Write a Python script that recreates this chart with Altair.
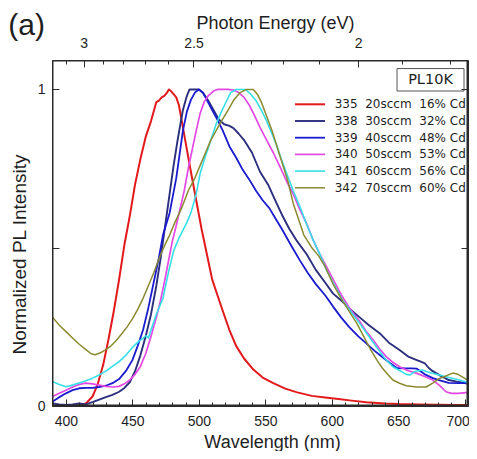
import altair as alt
import pandas as pd

# ---------------- data ----------------
LABELS = [
    "335\u00a0\u00a020sccm\u00a0\u00a016%\u00a0Cd",
    "338\u00a0\u00a030sccm\u00a0\u00a032%\u00a0Cd",
    "339\u00a0\u00a040sccm\u00a0\u00a048%\u00a0Cd",
    "340\u00a0\u00a050sccm\u00a0\u00a053%\u00a0Cd",
    "341\u00a0\u00a060sccm\u00a0\u00a056%\u00a0Cd",
    "342\u00a0\u00a070sccm\u00a0\u00a060%\u00a0Cd",
]
COLORS = ["#e3191c", "#2b2f7e", "#1a1ad0", "#e448e4", "#33e0e6", "#8a8a30"]
WIDTHS = [2.0, 1.5, 2.0, 1.5, 2.5, 1.5]

WL_335 = [390, 395, 400, 405, 410, 415, 420, 424, 428, 432, 436, 440, 444, 448, 452, 456, 460, 464, 466, 468,
          470, 472, 474, 476, 477.5, 479, 481, 483, 485, 488, 491, 494, 498, 502, 506, 510, 514, 518, 523, 528,
          534, 541, 548, 556, 565, 574, 585, 595, 605, 615, 626, 640, 651, 665, 680, 695, 709]
I_335 = [0.0, 0.001, 0.0, 0.002, 0.003, 0.008, 0.03, 0.07, 0.13, 0.21, 0.30, 0.40, 0.51, 0.60, 0.70, 0.78, 0.85,
         0.90, 0.93, 0.96, 0.965, 0.975, 0.98, 0.99, 1.0, 0.995, 0.985, 0.975, 0.95, 0.88, 0.81, 0.74, 0.65, 0.56,
         0.48, 0.40, 0.35, 0.30, 0.24, 0.19, 0.15, 0.115, 0.09, 0.072, 0.055, 0.043, 0.032, 0.027, 0.022, 0.017,
         0.012, 0.008, 0.006, 0.005, 0.004, 0.003, 0.003]

WL_338 = [390, 395, 400, 405, 410, 415, 420, 425, 430, 435, 440, 444, 448, 452, 456, 460, 464, 468, 471, 474,
          478, 481, 484, 488, 491, 493, 500, 503, 507, 511, 515, 519, 523, 526, 530, 534, 540, 546, 552, 558,
          563, 568, 574, 581, 588, 595, 601, 608, 614, 621, 628, 636, 643, 651, 658, 664, 667, 670, 673, 676,
          682, 688, 694, 701, 709]
I_338 = [0.008, 0.005, 0.003, 0.005, 0.008, 0.005, 0.012, 0.02, 0.028, 0.035, 0.045, 0.057, 0.075, 0.11, 0.16,
         0.22, 0.29, 0.38, 0.46, 0.55, 0.67, 0.76, 0.84, 0.935, 0.98, 1.0, 1.0, 0.99, 0.965, 0.935, 0.905, 0.89,
         0.885, 0.878, 0.86, 0.84, 0.80, 0.74, 0.70, 0.645, 0.60, 0.56, 0.52, 0.48, 0.43, 0.39, 0.355, 0.33,
         0.305, 0.28, 0.255, 0.23, 0.20, 0.177, 0.155, 0.145, 0.14, 0.135, 0.12, 0.11, 0.095, 0.082, 0.077,
         0.072, 0.066]

WL_339 = [390, 395, 400, 405, 410, 415, 420, 425, 430, 435, 440, 445, 450, 454, 458, 462, 466, 470, 473, 478,
          483, 486, 488, 491, 494, 497, 500, 503, 506, 510, 514, 518, 523, 528, 533, 538, 543, 548, 553, 558,
          563, 569, 576, 582, 588, 595, 601, 607, 613, 620, 626, 632, 638, 644, 649, 655, 660, 664, 670, 676,
          682, 688, 695, 701, 709]
I_339 = [0.014, 0.028, 0.04, 0.05, 0.056, 0.057, 0.057, 0.06, 0.064, 0.072, 0.085, 0.11, 0.145, 0.19, 0.24,
         0.31, 0.39, 0.47, 0.54, 0.61, 0.72, 0.81, 0.87, 0.93, 0.967, 0.99, 1.0, 0.99, 0.967, 0.935, 0.904, 0.87,
         0.82, 0.785, 0.746, 0.715, 0.68, 0.65, 0.625, 0.59, 0.555, 0.51, 0.46, 0.42, 0.385, 0.35, 0.314, 0.28,
         0.25, 0.22, 0.198, 0.175, 0.155, 0.135, 0.12, 0.119, 0.119, 0.118, 0.1, 0.088, 0.08, 0.073, 0.072,
         0.072, 0.07]

WL_340 = [390, 395, 400, 405, 410, 415, 420, 425, 430, 435, 440, 444, 448, 452, 456, 460, 464, 468, 471, 474,
          477, 480, 483, 486, 489, 492, 495, 498, 501, 504, 507, 511, 514, 518, 522, 526, 530, 534, 538, 541,
          546, 551, 556, 561, 566, 571, 576, 581, 586, 591, 596, 601, 608, 614, 621, 626, 631, 636, 641, 646,
          651, 657, 664, 670, 676, 681, 686, 690, 695, 701, 709]
I_340 = [0.03, 0.04, 0.05, 0.06, 0.068, 0.072, 0.07, 0.066, 0.062, 0.06, 0.062, 0.07, 0.082, 0.1, 0.125, 0.165,
         0.22, 0.28, 0.33, 0.39, 0.455, 0.52, 0.57, 0.625, 0.68, 0.75, 0.81, 0.87, 0.925, 0.96, 0.98, 0.995, 1.0,
         1.0, 1.0, 0.998, 0.99, 0.975, 0.95, 0.925, 0.88, 0.84, 0.8, 0.756, 0.71, 0.67, 0.62, 0.577, 0.524, 0.48,
         0.44, 0.4, 0.345, 0.305, 0.268, 0.235, 0.209, 0.18, 0.156, 0.138, 0.124, 0.112, 0.103, 0.093, 0.082,
         0.065, 0.045, 0.04, 0.04, 0.042, 0.045]

WL_341 = [390, 395, 400, 405, 410, 415, 420, 425, 430, 435, 440, 445, 450, 455, 458, 460, 462, 464, 468, 473,
          477, 481, 485, 488, 491, 494, 498, 501, 505, 509, 513, 517, 521, 524, 528, 535, 539, 543, 547, 551,
          555, 558, 562, 566, 571, 576, 581, 586, 591, 596, 601, 608, 614, 621, 627, 633, 640, 646, 652, 656,
          659, 662, 668, 674, 681, 688, 696, 702, 709]
I_341 = [0.077, 0.068, 0.061, 0.066, 0.073, 0.08, 0.088, 0.098, 0.11, 0.125, 0.14, 0.16, 0.185, 0.205, 0.214,
         0.222, 0.215, 0.24, 0.29, 0.34, 0.42, 0.49, 0.53, 0.555, 0.58, 0.61, 0.67, 0.735, 0.79, 0.84, 0.89,
         0.93, 0.965, 0.99, 1.0, 1.0, 0.985, 0.965, 0.935, 0.9, 0.86, 0.83, 0.78, 0.735, 0.68, 0.63, 0.575,
         0.524, 0.48, 0.43, 0.39, 0.335, 0.3, 0.261, 0.225, 0.19, 0.15, 0.124, 0.11, 0.1, 0.098, 0.108, 0.114,
         0.105, 0.098, 0.09, 0.082, 0.075, 0.063]

WL_342 = [390, 395, 400, 405, 410, 415, 419, 422, 426, 430, 434, 438, 442, 446, 450, 454, 458, 462, 466, 470,
          474, 478, 482, 487, 492, 497, 501, 505, 509, 513, 517, 522, 526, 531, 536, 541, 544, 547, 551, 555,
          558, 561, 564, 567, 571, 575, 579, 585, 590, 595, 601, 607, 613, 619, 624, 629, 634, 638, 642, 646,
          651, 656, 664, 671, 676, 681, 686, 691, 695, 701, 709]
I_342 = [0.28, 0.255, 0.235, 0.215, 0.195, 0.178, 0.165, 0.162, 0.168, 0.178, 0.19, 0.208, 0.228, 0.25, 0.275,
         0.305, 0.34, 0.38, 0.42, 0.465, 0.505, 0.54, 0.58, 0.625, 0.68, 0.72, 0.76, 0.8, 0.84, 0.87, 0.9, 0.935,
         0.965, 0.99, 1.0, 1.0, 0.985, 0.96, 0.915, 0.87, 0.83, 0.79, 0.75, 0.71, 0.64, 0.59, 0.54, 0.5, 0.475,
         0.44, 0.385, 0.34, 0.3, 0.26, 0.22, 0.18, 0.145, 0.12, 0.1, 0.082, 0.072, 0.064, 0.06, 0.06, 0.072,
         0.087, 0.095, 0.104, 0.1, 0.085, 0.061]

WL_LIST = [WL_335, WL_338, WL_339, WL_340, WL_341, WL_342]
I_LIST = [I_335, I_338, I_339, I_340, I_341, I_342]

X_TICKS_MAJOR = [400, 450, 500, 550, 600, 650, 700]
X_TICKS_MINOR = list(range(390, 701, 10))
EV_MAJOR = [3, 2.5, 2]
EV_MINOR = [3.1, 2.9, 2.8, 2.7, 2.6, 2.4, 2.3, 2.2, 2.1, 1.9, 1.8]
Y_TICKS = [0, 0.5, 1]
HC = 1239.84  # eV*nm
X_DOMAIN = [389.5, 702.5]
Y_DOMAIN = [0, 1.093]

BOX_TEXT = "PL10K"
BOX = {"x1": 649.1, "x2": 699.5, "y1": 1.066, "y2": 0.995, "tx": 674.3, "ty": 1.031}

# ---------------- build ----------------
rows = []
for lab, wls, vals in zip(LABELS, WL_LIST, I_LIST):
    for w, v in zip(wls, vals):
        rows.append({"sample": lab, "wl": w, "val": v})
df = pd.DataFrame(rows)

FONT = "Liberation Sans"
TXT = "#1e1e1e"
AX = "#2a2a2a"
W, H = 416, 346

x_scale = alt.Scale(domain=X_DOMAIN, nice=False, zero=False)
y_scale = alt.Scale(domain=Y_DOMAIN, nice=False, zero=False)

common_axis = dict(domain=False, grid=False, tickColor=AX, tickWidth=1, zindex=1,
                   labelFont=FONT, labelColor=TXT, titleFont=FONT, titleColor=TXT,
                   titleFontWeight="normal")

# plot frame as four rule segments along the scale-domain edges (pulled in slightly)
DX = (X_DOMAIN[1] - X_DOMAIN[0]) * 0.0018
DY = (Y_DOMAIN[1] - Y_DOMAIN[0]) * 0.0022
XL, XR = X_DOMAIN[0] + DX, X_DOMAIN[1] - DX
YB, YT = Y_DOMAIN[0] + DY, Y_DOMAIN[1] - DY
frame_df = pd.DataFrame({
    "fx1": [XL, XL, XL, XR],
    "fx2": [XR, XR, XL, XR],
    "fy1": [YB, YT, YB, YB],
    "fy2": [YB, YT, YT, YT],
})
frame = alt.Chart(frame_df).mark_rule(color=AX, strokeWidth=1.5).encode(
    x=alt.X("fx1:Q", scale=x_scale, axis=None), x2="fx2:Q",
    y=alt.Y("fy1:Q", scale=y_scale, axis=None), y2="fy2:Q",
)

lines = alt.Chart(df).mark_line(clip=True, strokeJoin="round").encode(
    x=alt.X("wl:Q", scale=x_scale, axis=alt.Axis(
        orient="bottom", values=X_TICKS_MAJOR, offset=-7, tickSize=7,
        labelFontSize=14, labelPadding=19, labelBaseline="alphabetic", labelFlush=False,
        labelOffset={"condition": {"test": "datum.value == 700", "value": -7}, "value": 0},
        labelOverlap=False, title="Wavelength (nm)", titleFontSize=18, titleX=220, titleY=34,
        titleAlign="center", titleBaseline="top", **common_axis)),
    y=alt.Y("val:Q", scale=y_scale, axis=alt.Axis(
        orient="left", values=Y_TICKS, offset=-7, tickSize=7,
        labelExpr="datum.value == 0.5 ? '' : toString(datum.value)",
        labelFontSize=14, labelPadding=7, labelBaseline="middle", labelFlush=False,
        title="Normalized PL Intensity", titleFontSize=19, titleX=-34, titleY=194,
        titleAlign="center", titleBaseline="alphabetic", titleAngle=-90, **common_axis)),
    color=alt.Color("sample:N", scale=alt.Scale(domain=LABELS, range=COLORS), legend=alt.Legend(
        title=None, orient="none", legendX=252, legendY=38.3, direction="vertical",
        symbolType="M-3,0H3", symbolSize=100, symbolStrokeWidth=2,
        labelFont="DejaVu Sans", labelFontSize=12, labelColor=TXT, labelOffset=18.7,
        rowPadding=4.7, padding=0, labelLimit=300)),
    strokeWidth=alt.StrokeWidth("sample:N", scale=alt.Scale(domain=LABELS, range=WIDTHS), legend=None),
)

ghost_df = pd.DataFrame({"wl": [500], "val": [0.5]})

bottom_minor = alt.Chart(ghost_df).mark_point(opacity=0).encode(
    x=alt.X("wl:Q", scale=x_scale, axis=alt.Axis(
        orient="bottom", values=X_TICKS_MINOR, offset=-4, tickSize=4, labels=False, title=None,
        **common_axis)),
    y=alt.Y("val:Q", scale=y_scale, axis=alt.Axis(
        orient="right", values=Y_TICKS, offset=-7, tickSize=7, labels=False, title=None,
        **common_axis)),
)

top_major = alt.Chart(ghost_df).mark_point(opacity=0).encode(
    x=alt.X("wl:Q", scale=x_scale, axis=alt.Axis(
        orient="top", values=[HC / e for e in EV_MAJOR], offset=-7, tickSize=7,
        labelExpr="toString(round(12398.4/datum.value)/10)",
        labelFontSize=14, labelPadding=13, labelBaseline="alphabetic", labelFlush=False,
        labelOverlap=False, title="Photon Energy (eV)", titleFontSize=18, titleX=223, titleY=-38.7,
        titleAlign="center", titleBaseline="alphabetic", **common_axis)),
    y=alt.Y("val:Q", scale=y_scale, axis=None),
)

top_minor = alt.Chart(ghost_df).mark_point(opacity=0).encode(
    x=alt.X("wl:Q", scale=x_scale, axis=alt.Axis(
        orient="top", values=[HC / e for e in EV_MINOR], offset=-4, tickSize=4, labels=False,
        title=None, **common_axis)),
    y=alt.Y("val:Q", scale=y_scale, axis=None),
)

box_df = pd.DataFrame([BOX])
box = alt.Chart(box_df).mark_rect(fill="white", stroke="#555555", strokeWidth=1).encode(
    x=alt.X("x1:Q", scale=x_scale, axis=None), x2="x2:Q",
    y=alt.Y("y1:Q", scale=y_scale, axis=None), y2="y2:Q",
)
box_text = alt.Chart(box_df).mark_text(
    text=BOX_TEXT, font="DejaVu Sans", fontSize=14.5, color=TXT, align="center", baseline="middle"
).encode(
    x=alt.X("tx:Q", scale=x_scale, axis=None),
    y=alt.Y("ty:Q", scale=y_scale, axis=None),
)

panel = alt.Chart(pd.DataFrame({"t": ["(a)"]})).mark_text(
    font=FONT, fontSize=30, color=TXT, align="center", baseline="alphabetic"
).encode(text="t:N", x=alt.value(-25.3), y=alt.value(-25))

chart = alt.layer(
    bottom_minor, top_major, top_minor, lines, frame, box, box_text, panel
).resolve_scale(
    x="shared", y="shared"
).resolve_axis(
    x="independent", y="independent"
).properties(
    width=W, height=H, background="white",
    padding={"left": 44, "top": 52, "right": 1, "bottom": 45},
    autosize=alt.AutoSizeParams(type="none"),
).configure_view(
    stroke=AX, strokeWidth=1
)

chart.save("out.html", embed_options={"renderer": "svg", "actions": False})
